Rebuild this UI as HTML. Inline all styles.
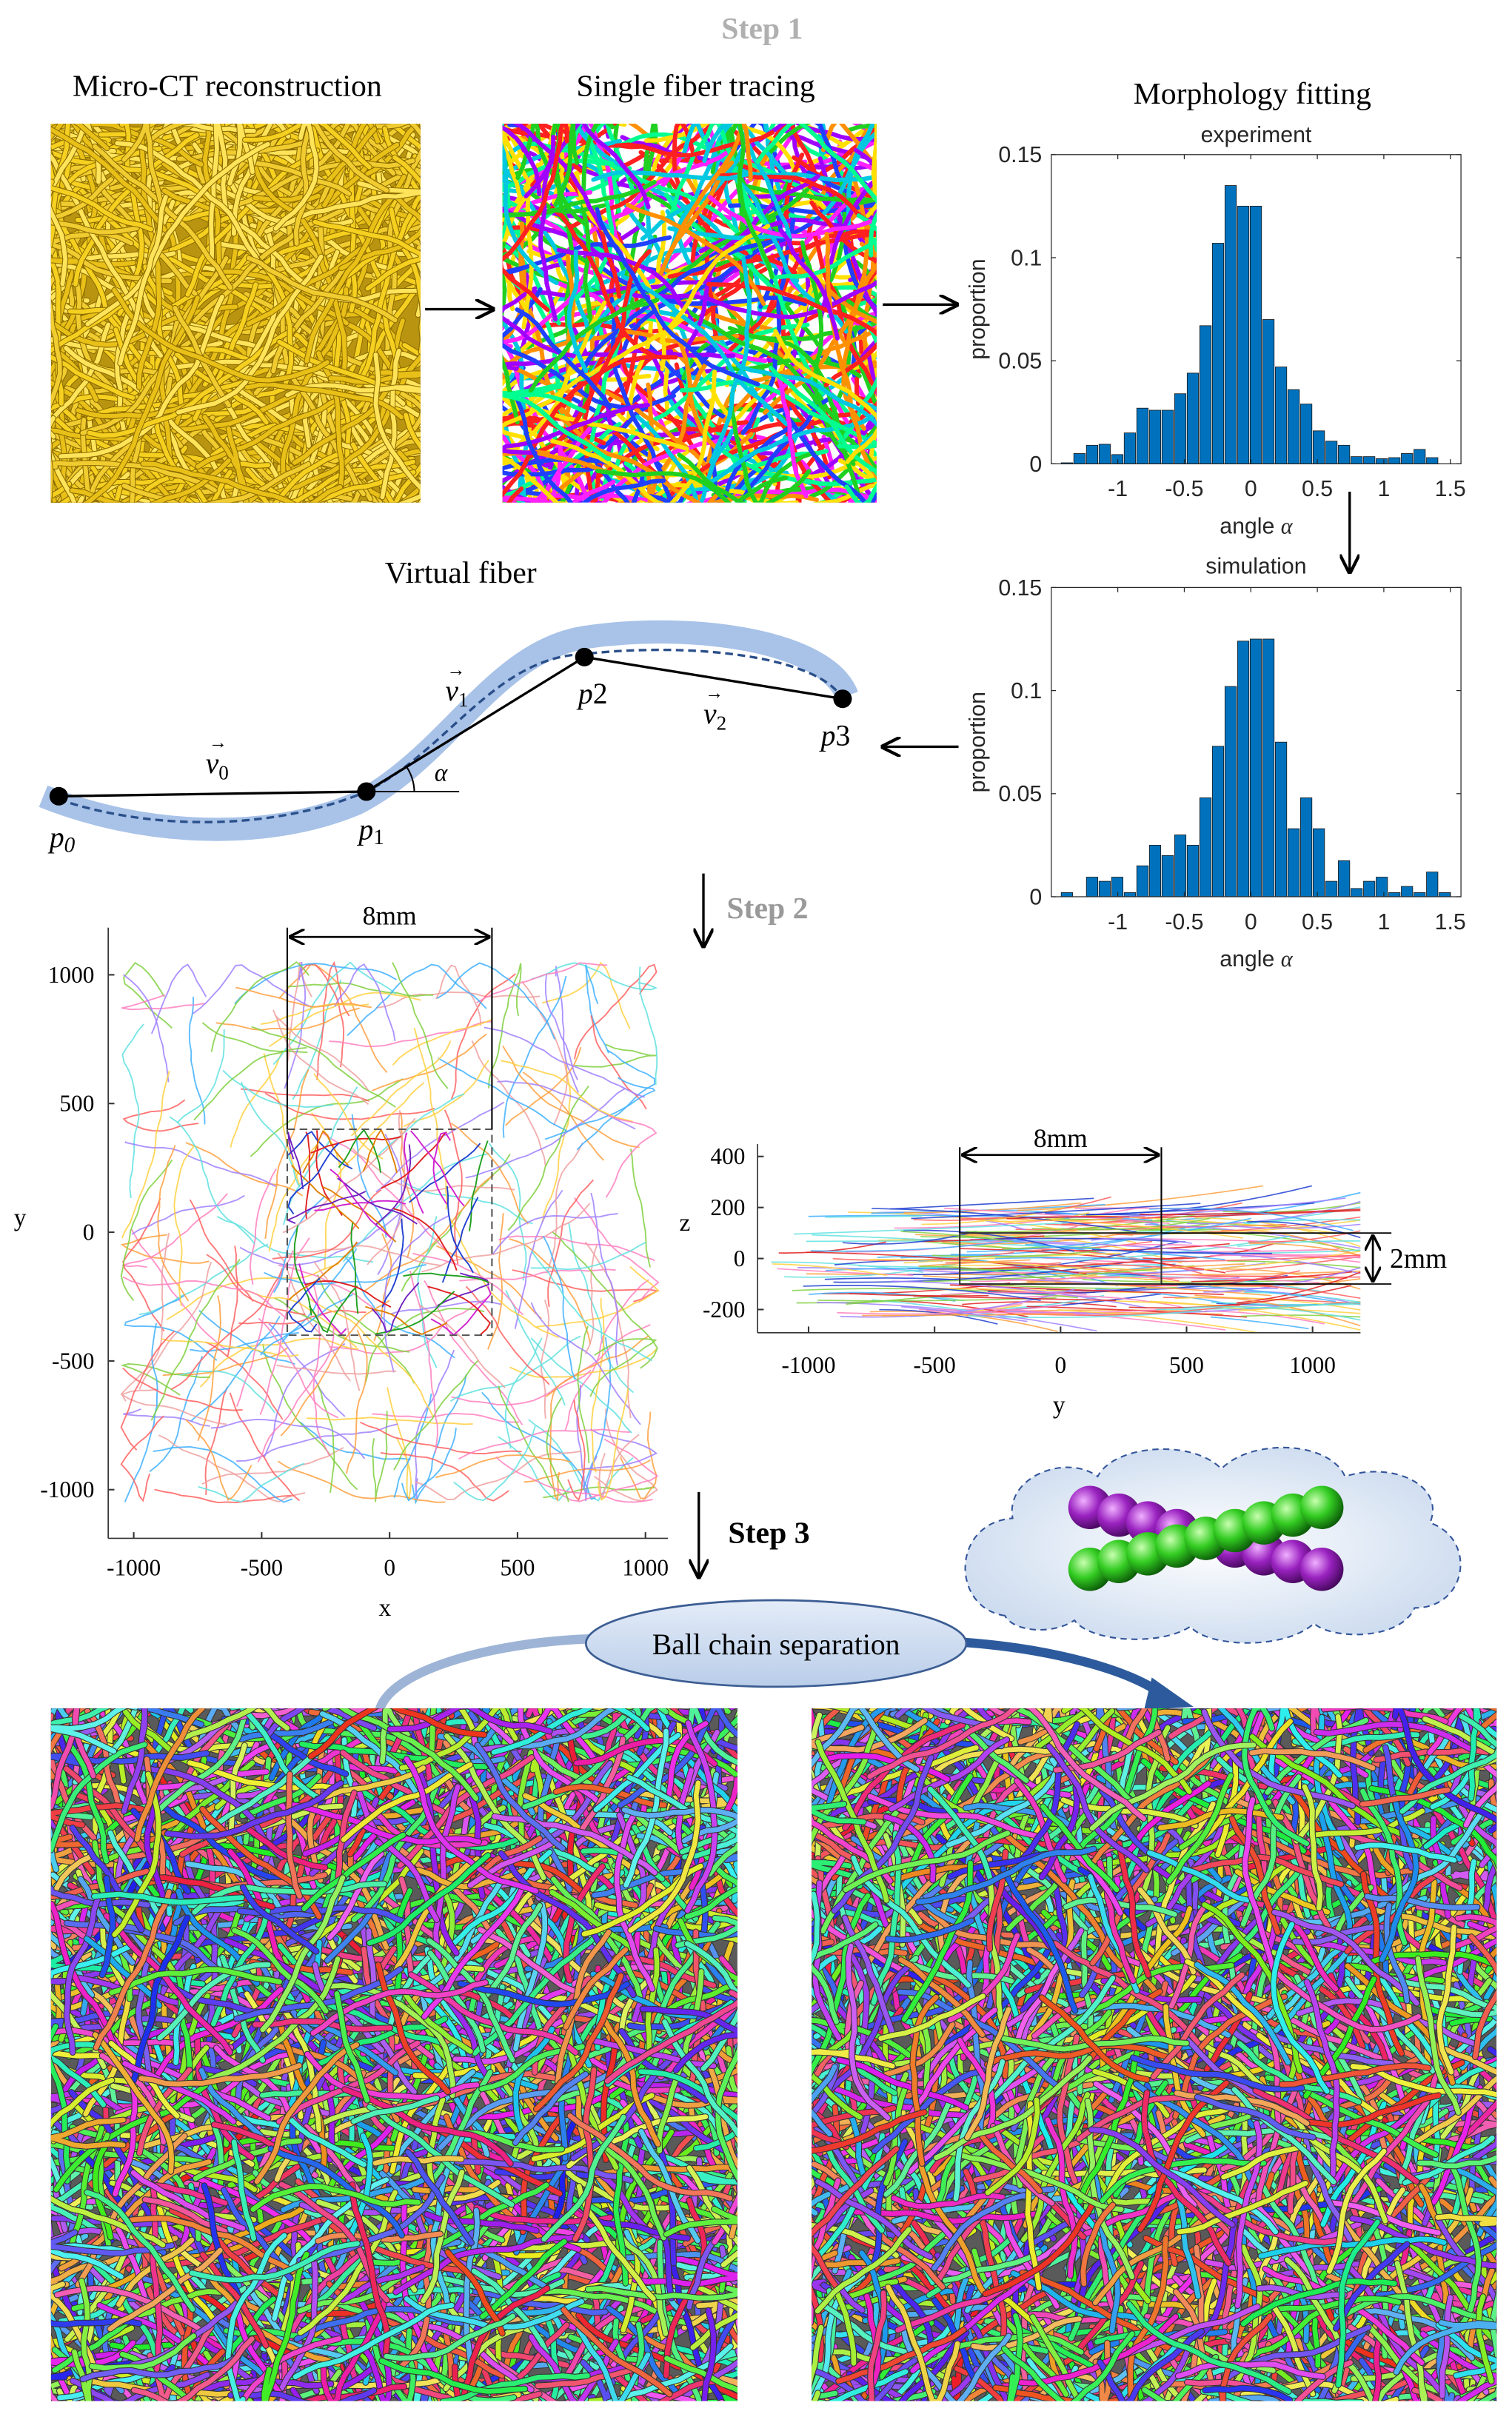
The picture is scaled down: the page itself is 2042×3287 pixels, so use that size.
<!DOCTYPE html>
<html><head><meta charset="utf-8"><style>
html,body{margin:0;padding:0;background:#fff;overflow:hidden;width:2042px;height:3287px;}
svg{display:block;overflow:hidden;}
.serif{font-family:"Liberation Serif",serif;}
.sans{font-family:"Liberation Sans",sans-serif;}
</style></head><body>
<svg id="fig" width="2042" height="3287" viewBox="0 0 978 1574.3" preserveAspectRatio="none" xmlns="http://www.w3.org/2000/svg">
<defs>
<marker id="ah" viewBox="0 0 10 10" refX="9" refY="5" markerWidth="8" markerHeight="8" orient="auto-start-reverse"><path d="M0,0 L10,5 L0,10" fill="none" stroke="#000" stroke-width="1.6"/></marker>
<clipPath id="c1"><rect x="33" y="80" width="239" height="245"/></clipPath>
<clipPath id="c2"><rect x="325" y="80" width="242" height="245"/></clipPath>
<clipPath id="c3"><rect x="33" y="1105" width="444" height="448"/></clipPath>
<clipPath id="c4"><rect x="525" y="1105" width="443" height="448"/></clipPath>
<clipPath id="cxy"><rect x="70" y="600" width="362" height="395"/></clipPath>
<clipPath id="cyz"><rect x="490" y="740" width="390" height="122"/></clipPath>
<radialGradient id="cloudg" cx="0.5" cy="0.5" r="0.6"><stop offset="0" stop-color="#ffffff"/><stop offset="1" stop-color="#c9d9ee"/></radialGradient>
<radialGradient id="gball" cx="0.35" cy="0.35" r="0.7"><stop offset="0" stop-color="#c8ffb0"/><stop offset="0.5" stop-color="#33cc22"/><stop offset="1" stop-color="#0b5a08"/></radialGradient>
<radialGradient id="pball" cx="0.35" cy="0.35" r="0.7"><stop offset="0" stop-color="#f0b0ff"/><stop offset="0.5" stop-color="#9a22c0"/><stop offset="1" stop-color="#43075a"/></radialGradient>
<linearGradient id="ellg" x1="0" y1="0" x2="0" y2="1"><stop offset="0" stop-color="#e4ecf8"/><stop offset="1" stop-color="#b9cde9"/></linearGradient>
</defs>

<text x="493" y="25" text-anchor="middle" class="serif" font-size="20" font-weight="bold" fill="#b0b0b0">Step 1</text>
<text x="147" y="62" text-anchor="middle" class="serif" font-size="20">Micro-CT reconstruction</text>
<text x="450" y="62" text-anchor="middle" class="serif" font-size="20">Single fiber tracing</text>
<text x="810" y="67" text-anchor="middle" class="serif" font-size="20">Morphology fitting</text>

<g id="img1" clip-path="url(#c1)"><rect x="33" y="80" width="239" height="245" fill="#b89410"/></g>
<g id="img2" clip-path="url(#c2)"><rect x="325" y="80" width="242" height="245" fill="#fff"/></g>

<line x1="275" y1="200" x2="319" y2="200" stroke="#000" stroke-width="1.6" marker-end="url(#ah)"/>
<line x1="571" y1="197" x2="619" y2="197" stroke="#000" stroke-width="1.6" marker-end="url(#ah)"/>
<line x1="873" y1="318" x2="873" y2="370" stroke="#000" stroke-width="1.6" marker-end="url(#ah)"/>
<line x1="620" y1="483" x2="571" y2="483" stroke="#000" stroke-width="1.6" marker-end="url(#ah)"/>

<g id="hist1"></g>
<g id="hist2"></g>

<g>
<text x="298" y="377" text-anchor="middle" class="serif" font-size="20">Virtual fiber</text>
<path d="M28,515 C90,540 170,545 230,520 C290,490 320,420 380,412 C450,402 535,415 548,450" fill="none" stroke="#a8c2e8" stroke-width="15" stroke-linecap="butt"/>
<path d="M38,517 C90,535 170,540 237,512 C290,485 320,425 378,423 C450,415 530,425 545,452" fill="none" stroke="#2a4f8a" stroke-width="1.6" stroke-dasharray="5,3"/>
<polyline points="38,515 237,512 378,425 545,452" fill="none" stroke="#000" stroke-width="1.6"/>
<line x1="237" y1="512" x2="297" y2="512" stroke="#000" stroke-width="1"/>
<path d="M268,512 A31,31 0 0 0 263,496" fill="none" stroke="#000" stroke-width="1"/>
<circle cx="38" cy="515" r="6" fill="#000"/>
<circle cx="237" cy="512" r="6" fill="#000"/>
<circle cx="378" cy="425" r="6" fill="#000"/>
<circle cx="545" cy="452" r="6" fill="#000"/>
<g class="serif" font-style="italic" font-size="19">
<text x="32" y="548">p<tspan font-size="14" dy="3">0</tspan></text>
<text x="232" y="543">p<tspan font-size="14" dy="3" font-style="normal">1</tspan></text>
<text x="374" y="455">p<tspan font-style="normal">2</tspan></text>
<text x="531" y="482">p<tspan font-style="normal">3</tspan></text>
<text x="133" y="500">v<tspan font-size="13" dy="4" font-style="normal">0</tspan></text>
<text x="288" y="453">v<tspan font-size="13" dy="4" font-style="normal">1</tspan></text>
<text x="455" y="468">v<tspan font-size="13" dy="4" font-style="normal">2</tspan></text>
<text x="281" y="505" font-size="16">α</text>
</g>
<g font-size="12" class="sans"><text x="135" y="484">→</text><text x="289" y="437">→</text><text x="456" y="452">→</text></g>
</g>

<line x1="455" y1="565" x2="455" y2="612" stroke="#000" stroke-width="1.6" marker-end="url(#ah)"/>
<text x="470" y="594" class="serif" font-size="20" font-weight="bold" fill="#9a9a9a">Step 2</text>

<g id="xyplot"></g>
<g id="yzplot"></g>

<line x1="452" y1="965" x2="452" y2="1020" stroke="#000" stroke-width="1.6" marker-end="url(#ah)"/>
<text x="471" y="998" class="serif" font-size="20" font-weight="bold">Step 3</text>

<g>
<path d="M650,1045 C615,1040 615,985 655,982 C650,955 690,940 710,955 C720,935 770,930 790,950 C810,930 860,932 870,955 C900,945 935,960 925,985 C955,995 950,1040 915,1040 C905,1062 860,1060 850,1050 C830,1068 780,1065 770,1052 C750,1065 705,1062 695,1048 C680,1058 655,1055 650,1045 Z" fill="url(#cloudg)" stroke="#34559a" stroke-width="1" stroke-dasharray="4,3"/>
<g id="balls"></g>
</g>

<path d="M245,1108 C250,1080 320,1062 382,1060" fill="none" stroke="#9db4d6" stroke-width="6"/>
<path d="M620,1062 C680,1066 730,1080 752,1096" fill="none" stroke="#2d5a9c" stroke-width="6"/>
<polygon points="745,1085 772,1104 740,1106" fill="#2d5a9c"/>
<ellipse cx="502" cy="1063" rx="123" ry="28" fill="url(#ellg)" stroke="#3c5d93" stroke-width="1.3"/>
<text x="502" y="1070" text-anchor="middle" class="serif" font-size="19">Ball chain separation</text>

<g id="img3" clip-path="url(#c3)"><rect x="33" y="1105" width="444" height="448" fill="#5a5a5a"/></g>
<g id="img4" clip-path="url(#c4)"><rect x="525" y="1105" width="443" height="448" fill="#5a5a5a"/></g>
</svg>

<script>
const binStart = -1.43;
const binWidth = 0.0947;
const expVals = [0.0005,0.005,0.009,0.0095,0.0045,0.015,0.027,0.026,0.026,0.034,0.044,0.067,0.107,0.135,0.125,0.125,0.070,0.047,0.036,0.029,0.016,0.011,0.009,0.0035,0.0035,0.0025,0.003,0.005,0.007,0.003];
const simVals = [0.002,0,0.0095,0.0075,0.0095,0.002,0.015,0.025,0.020,0.030,0.025,0.048,0.073,0.102,0.124,0.125,0.125,0.075,0.033,0.048,0.033,0.0075,0.0175,0.004,0.0075,0.0095,0.002,0.005,0.002,0.012,0.002];
const xTicks = [-1,-0.5,0,0.5,1,1.5];
const xTickLabels = ["-1","-0.5","0","0.5","1","1.5"];
const yTicks = [0,0.05,0.1,0.15];
const yTickLabels = ["0","0.05","0.1","0.15"];

const xyXTicks = [-1000,-500,0,500,1000];
const xyYTicks = [1000,500,0,-500,-1000];
const yzXTicks = [-1000,-500,0,500,1000];
const yzZTicks = [400,200,0,-200];

const NS = "http://www.w3.org/2000/svg";
function mk(tag, attrs, parent){ const e=document.createElementNS(NS,tag); for(const k in attrs) e.setAttribute(k,attrs[k]); if(parent) parent.appendChild(e); return e; }
function rng(seed){ return function(){ seed|=0; seed=seed+0x6D2B79F5|0; let t=Math.imul(seed^seed>>>15,1|seed); t=t+Math.imul(t^t>>>7,61|t)^t; return ((t^t>>>14)>>>0)/4294967296; }; }

function drawHist(g, vals, top, title, titleY){
  const L=680,R=945,T=top,B=top+200;
  const xmin=-1.5,xmax=1.58;
  const xs=v=>L+(v-xmin)/(xmax-xmin)*(R-L);
  const ys=v=>B-(v/0.15)*(B-T);
  const t=mk("text",{x:(L+R)/2,y:titleY,"text-anchor":"middle","class":"sans","font-size":"14.5",fill:"#262626"},g); t.textContent=title;
  
  
  vals.forEach((v,i)=>{
    const x0=xs(binStart+i*binWidth), x1=xs(binStart+(i+1)*binWidth);
    const r=mk("rect",{x:x0+0.4,y:ys(v),width:x1-x0-0.8,height:B-ys(v),fill:"#0072bd",stroke:"#1a1a1a","stroke-width":"0.4"},g);
    
    
  });
  const box=mk("rect",{x:L,y:T,width:R-L,height:B-T,fill:"none",stroke:"#262626","stroke-width":"0.6"},g);
  
  
  xTicks.forEach((v,i)=>{
    mk("line",{x1:xs(v),x2:xs(v),y1:B,y2:B-3,stroke:"#262626","stroke-width":"0.6"},g);
    mk("line",{x1:xs(v),x2:xs(v),y1:T,y2:T+3,stroke:"#262626","stroke-width":"0.6"},g);
    const tx=mk("text",{x:xs(v),y:B+21,"text-anchor":"middle","class":"sans","font-size":"14.5",fill:"#262626"},g); tx.textContent=xTickLabels[i];
    
    
  });
  yTicks.forEach((v,i)=>{
    mk("line",{x1:L,x2:L+3,y1:ys(v),y2:ys(v),stroke:"#262626","stroke-width":"0.6"},g);
    mk("line",{x1:R,x2:R-3,y1:ys(v),y2:ys(v),stroke:"#262626","stroke-width":"0.6"},g);
    const ty=mk("text",{x:L-6,y:ys(v)+5,"text-anchor":"end","class":"sans","font-size":"14.5",fill:"#262626"},g); ty.textContent=yTickLabels[i];
    
    
  });
  const yl=mk("text",{x:0,y:0,transform:`translate(637,${(T+B)/2}) rotate(-90)`,"text-anchor":"middle","class":"sans","font-size":"14.5",fill:"#262626"},g); yl.textContent="proportion";
  
  
  const xl=mk("text",{x:(L+R)/2,y:B+45,"text-anchor":"middle","class":"sans","font-size":"14.5",fill:"#262626"},g); xl.innerHTML='angle <tspan font-family="Liberation Serif, serif" font-style="italic">α</tspan>';
  
  
}
drawHist(document.getElementById("hist1"), expVals, 100, "experiment", 92);
drawHist(document.getElementById("hist2"), simVals, 380, "simulation", 371);

// fibers bounce inside their box (x0,y0,w,h) so nothing leaves the frame
function fiber(r, x0,y0,w,h, len, step, bend){
  let x=x0+r()*w, y=y0+r()*h, a=r()*Math.PI*2, d=`M${x.toFixed(1)},${y.toFixed(1)}`;
  const n=Math.max(2,Math.round(len/step));
  for(let i=0;i<n;i++){
    a+=(r()-0.5)*bend; x+=Math.cos(a)*step; y+=Math.sin(a)*step;
    if(x<x0){x=2*x0-x;a=Math.PI-a;} if(x>x0+w){x=2*(x0+w)-x;a=Math.PI-a;}
    if(y<y0){y=2*y0-y;a=-a;} if(y>y0+h){y=2*(y0+h)-y;a=-a;}
    d+=` L${x.toFixed(1)},${y.toFixed(1)}`;
  }
  return d;
}
function texture(g, seed, x0,y0,w,h, count, colorFn, sw, outline, len){
  const r=rng(seed);
  for(let i=0;i<count;i++){
    const d=fiber(r,x0-4,y0-4,w+8,h+8,len*(0.6+r()*0.8),8,0.5);
    if(outline) mk("path",{d,fill:"none",stroke:outline,"stroke-width":sw+1,"stroke-linecap":"round"},g);
    mk("path",{d,fill:"none",stroke:colorFn(r),"stroke-width":sw,"stroke-linecap":"round"},g);
  }
}
texture(document.getElementById("img1"),11,33,80,239,245,380,r=>["#f5d020","#e8c018","#ffe45a","#f0cc30"][Math.floor(r()*4)],2.8,"#8a6a00",120);
texture(document.getElementById("img2"),22,325,80,242,245,340,r=>["#ff2020","#20d020","#2040ff","#ff20ff","#00c8e0","#ff9000","#a000ff","#ffe000","#00ff90"][Math.floor(r()*9)],2.8,null,130);
const hueCol=r=>`hsl(${Math.floor(r()*360)},85%,${52+Math.floor(r()*15)}%)`;
texture(document.getElementById("img3"),33,33,1105,444,448,1700,hueCol,3.2,"#333",90);
texture(document.getElementById("img4"),44,525,1105,443,448,1700,hueCol,3.2,"#333",90);

(function(){
  const g=document.getElementById("xyplot");
  const xs=v=>252+v*0.1655, ys=v=>797-v*0.1665;
  const cg=mk("g",{"clip-path":"url(#cxy)"},g);
  const r=rng(55);
  const cols=["#ffa040","#40b0ff","#ff80c0","#80d040","#ffd040","#60e0e0","#ff6060","#a080ff","#f0a0a0"];
  for(let i=0;i<260;i++){
    const d=fiber(r,xs(-1050),ys(1050),xs(1050)-xs(-1050),ys(-1050)-ys(1050),70+r()*50,6,0.45);
    mk("path",{d,fill:"none",stroke:cols[i%cols.length],"stroke-width":"0.9",opacity:"0.85"},cg);
  }
  const r2=rng(66); const cols2=["#e02020","#2040d0","#20a020","#d020d0","#e08000","#7020c0"];
  for(let i=0;i<40;i++){
    const d=fiber(r2,xs(-400),ys(400),xs(400)-xs(-400),ys(-400)-ys(400),60,6,0.45);
    mk("path",{d,fill:"none",stroke:cols2[i%cols2.length],"stroke-width":"0.9"},cg);
  }
  mk("rect",{x:xs(-400),y:ys(400),width:xs(400)-xs(-400),height:ys(-400)-ys(400),fill:"none",stroke:"#555","stroke-width":"1","stroke-dasharray":"5,3"},g);
  mk("line",{x1:xs(-400),x2:xs(-400),y1:600,y2:ys(400),stroke:"#000","stroke-width":"1"},g);
  mk("line",{x1:xs(400),x2:xs(400),y1:600,y2:ys(400),stroke:"#000","stroke-width":"1"},g);
  mk("line",{x1:xs(-400)+2,x2:xs(400)-2,y1:606,y2:606,stroke:"#000","stroke-width":"1.3","marker-start":"url(#ah)","marker-end":"url(#ah)"},g);
  const t8=mk("text",{x:(xs(-400)+xs(400))/2,y:598,"text-anchor":"middle","class":"serif","font-size":"17"},g); t8.textContent="8mm";
  
  
  mk("line",{x1:70,x2:70,y1:600,y2:995,stroke:"#333","stroke-width":"0.8"},g);
  mk("line",{x1:70,x2:432,y1:995,y2:995,stroke:"#333","stroke-width":"0.8"},g);
  xyXTicks.forEach(v=>{ mk("line",{x1:xs(v),x2:xs(v),y1:995,y2:991,stroke:"#333"},g);
    const t=mk("text",{x:xs(v),y:1019,"text-anchor":"middle","class":"serif","font-size":"15"},g); t.textContent=String(v);
    
     });
  xyYTicks.forEach(v=>{ mk("line",{x1:70,x2:74,y1:ys(v),y2:ys(v),stroke:"#333"},g);
    const t=mk("text",{x:61,y:ys(v)+5,"text-anchor":"end","class":"serif","font-size":"15"},g); t.textContent=String(v);
    
     });
  const xl=mk("text",{x:249,y:1045,"text-anchor":"middle","class":"serif","font-size":"16"},g); xl.textContent="x";
  
  
  const yl=mk("text",{x:13,y:793,"text-anchor":"middle","class":"serif","font-size":"16"},g); yl.textContent="y";
  
  
})();

(function(){
  const g=document.getElementById("yzplot");
  const xs=v=>686+v*0.163, ys=v=>814-v*0.165;
  const cg=mk("g",{"clip-path":"url(#cyz)"},g);
  const r=rng(77);
  const cols=["#ffa040","#40b0ff","#ff80c0","#80d040","#ffd040","#60e0e0","#ff6060","#a080ff","#e02020","#2040d0"];
  for(let i=0;i<220;i++){
    const x0=xs(-1150+r()*1900), y0=ys(-230+r()*430), L=60+r()*130, a=(r()-0.5)*0.25;
    const x1=Math.min(880,x0+Math.cos(a)*L), y1=y0+Math.sin(a)*L;
    mk("path",{d:`M${x0.toFixed(1)},${y0.toFixed(1)} Q${((x0+x1)/2).toFixed(1)},${(y0+(r()-0.5)*8).toFixed(1)} ${x1.toFixed(1)},${y1.toFixed(1)}`,fill:"none",stroke:cols[i%cols.length],"stroke-width":"0.8",opacity:"0.85"},cg);
  }
  mk("rect",{x:xs(-400),y:ys(100),width:xs(400)-xs(-400),height:ys(-100)-ys(100),fill:"none",stroke:"#333","stroke-width":"1"},g);
  mk("line",{x1:xs(400),x2:900,y1:ys(100),y2:ys(100),stroke:"#000","stroke-width":"0.8"},g);
  mk("line",{x1:xs(400),x2:900,y1:ys(-100),y2:ys(-100),stroke:"#000","stroke-width":"0.8"},g);
  mk("line",{x1:xs(-400),x2:xs(-400),y1:742,y2:ys(100),stroke:"#000","stroke-width":"1"},g);
  mk("line",{x1:xs(400),x2:xs(400),y1:742,y2:ys(100),stroke:"#000","stroke-width":"1"},g);
  mk("line",{x1:xs(-400)+2,x2:xs(400)-2,y1:747,y2:747,stroke:"#000","stroke-width":"1.3","marker-start":"url(#ah)","marker-end":"url(#ah)"},g);
  mk("line",{x1:888,x2:888,y1:ys(100)+2,y2:ys(-100)-2,stroke:"#000","stroke-width":"1.3","marker-start":"url(#ah)","marker-end":"url(#ah)"},g);
  const t8=mk("text",{x:(xs(-400)+xs(400))/2,y:742,"text-anchor":"middle","class":"serif","font-size":"17"},g); t8.textContent="8mm";
  
  
  const t2=mk("text",{x:899,y:820,"class":"serif","font-size":"18"},g); t2.textContent="2mm";
  
  
  mk("line",{x1:490,x2:490,y1:740,y2:862,stroke:"#333","stroke-width":"0.8"},g);
  mk("line",{x1:490,x2:880,y1:862,y2:862,stroke:"#333","stroke-width":"0.8"},g);
  yzXTicks.forEach(v=>{ mk("line",{x1:xs(v),x2:xs(v),y1:862,y2:858,stroke:"#333"},g);
    const t=mk("text",{x:xs(v),y:888,"text-anchor":"middle","class":"serif","font-size":"15"},g); t.textContent=String(v);
    
     });
  yzZTicks.forEach(v=>{ mk("line",{x1:490,x2:494,y1:ys(v),y2:ys(v),stroke:"#333"},g);
    const t=mk("text",{x:482,y:ys(v)+5,"text-anchor":"end","class":"serif","font-size":"15"},g); t.textContent=String(v);
    
     });
  const xl=mk("text",{x:685,y:914,"text-anchor":"middle","class":"serif","font-size":"16"},g); xl.textContent="y";
  
  
  const zl=mk("text",{x:443,y:796,"text-anchor":"middle","class":"serif","font-size":"16"},g); zl.textContent="z";
  
  
})();

(function(){
  const g=document.getElementById("balls");
  for(let i=0;i<9;i++){ const t=i/8; mk("circle",{cx:705+t*150,cy:975+t*40,r:14,fill:"url(#pball)"},g); }
  for(let i=0;i<9;i++){ const t=i/8; mk("circle",{cx:705+t*150,cy:1015-t*40,r:14,fill:"url(#gball)"},g); }
})();
</script>
</body></html>
